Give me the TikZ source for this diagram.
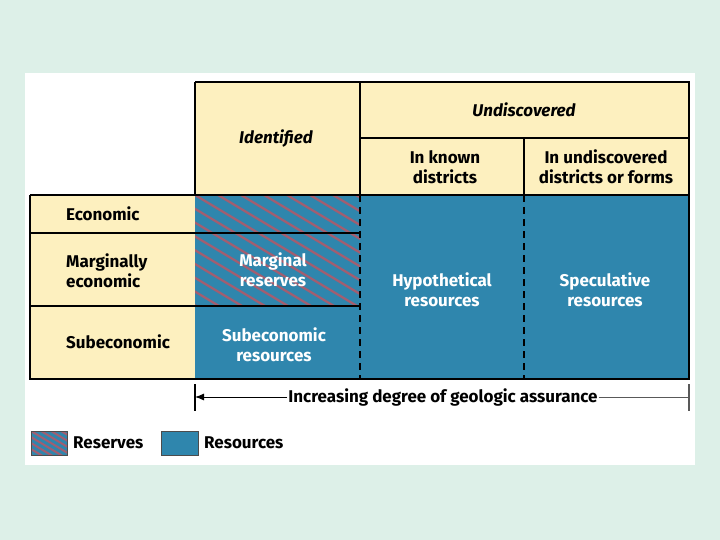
\documentclass[tikz,border=0pt]{standalone}
\usepackage{fontspec}
\setmainfont{Fira Sans}
\usetikzlibrary{arrows.meta}
\definecolor{bgmint}{HTML}{DDF0E8}
\definecolor{cream}{HTML}{FDF0BF}
\definecolor{resblue}{HTML}{2F86AD}
\definecolor{hatchred}{HTML}{A25E70}
\begin{document}
\begin{tikzpicture}[x=1pt,y=-1pt,
  lbl/.style={font=\fontsize{17}{20}\selectfont\bfseries, align=center, inner sep=0pt},
  lbll/.style={lbl, align=left, anchor=west},
  wlbl/.style={lbl, text=white},
  hdr/.style={font=\fontsize{17}{20}\selectfont\bfseries\itshape, inner sep=0pt},
  thick line/.style={line width=1.8pt},
  thin line/.style={line width=1.2pt},
  hatchline/.style={hatchred, line width=2.3pt}]
\useasboundingbox (0,0) rectangle (720,540);
\fill[bgmint] (0,0) rectangle (720,540);
\fill[white] (25,73) rectangle (695,465);
% fills
\fill[cream] (195,82) rectangle (689,195);
\fill[cream] (30,195) rectangle (195,379);
\fill[resblue] (195,195) rectangle (689,379);
% hatching
\begin{scope}
  \clip (195,195) rectangle (360,306);
  \foreach \i in {-12,...,8} {
    \draw[hatchline] (195+\i*23,195) -- ++(300,180);
  }
\end{scope}
% grid lines
\draw[thin line] (360,138) -- (689,138);
\draw[thin line] (524,138) -- (524,195);
\draw[thin line] (30,233) -- (360,233);
\draw[thin line] (30,306) -- (360,306);
\draw[thick line] (195,82) -- (195,195);
\draw[thick line] (360,82) -- (360,195);
\draw[thick line] (195,195) -- (30,195);
\draw[thick line] (195,195) -- (689,195);
\draw[thin line, dashed, dash pattern=on 7pt off 5pt] (360,195) -- (360,379);
\draw[thin line, dashed, dash pattern=on 7pt off 5pt] (524,195) -- (524,379);
\draw[thick line] (195,82) -- (689,82) -- (689,379) -- (30,379) -- (30,195);
% headers
\node[hdr] (ident) at (276,139) {Identified};
\node[hdr] (undisc) at (524,110) {Undiscovered};
\node[lbl] (known) at (445,167) {In known\\districts};
\node[lbl] (undd) at (606,167) {In undiscovered\\districts or forms};
% row labels
\node[lbll] (econ) at (66,214) {Economic};
\node[lbll] (marg) at (66,271) {Marginally\\economic};
\node[lbll] (subec) at (66,342) {Subeconomic};
% cell labels
\node[wlbl] (mres) at (273,270) {Marginal\\reserves};
\node[wlbl] (hyp) at (442,290) {Hypothetical\\resources};
\node[wlbl] (spec) at (605,290) {Speculative\\resources};
\node[wlbl] (subres) at (274,345) {Subeconomic\\resources};
% assurance arrow
\coordinate (lt) at (195,397);
\coordinate (rt) at (689,397);
\draw[line width=1.2pt] (195,384) -- (195,411);
\draw[line width=1.2pt, gray!70!black] (689,384) -- (689,411);
\node[lbl, fill=white, inner xsep=1pt] (assur) at (443,397) {Increasing degree of geologic assurance};
\draw[line width=0.9pt, -{Latex[length=9pt,width=7pt]}] (assur.west) -- (lt);
\draw[line width=0.9pt, gray!70!black] (assur.east) -- (rt);
% legend
\begin{scope}
  \clip (31,431) rectangle (67,455);
  \fill[resblue] (31,431) rectangle (67,455);
  \foreach \i in {-4,...,4} {
    \draw[hatchline, line width=2pt] (31+\i*10,431) -- ++(50,30);
  }
\end{scope}
\node[draw=gray!60!black, line width=1pt, minimum width=36pt, minimum height=24pt, inner sep=0pt] (legres) at (49,443) {};
\node[lbll] (legrestxt) at (73,443) {Reserves};
\node[draw=gray!60!black, fill=resblue, line width=1pt, minimum width=37pt, minimum height=24pt, inner sep=0pt] (legrsc) at (179.5,443) {};
\node[lbll] (legrsctxt) at (204,443) {Resources};
\end{tikzpicture}
\end{document}
